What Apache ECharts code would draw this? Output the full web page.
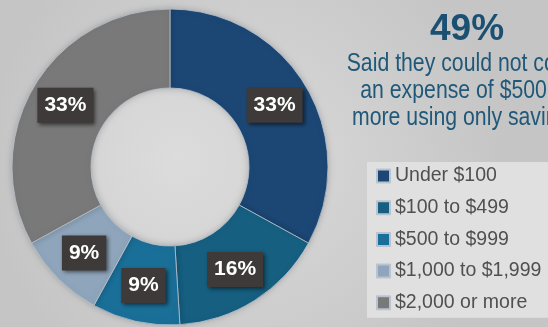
<!DOCTYPE html>
<html>
<head>
<meta charset="utf-8">
<script src="https://cdn.jsdelivr.net/npm/echarts@6/dist/echarts.min.js"></script>
<style>
  html, body { margin: 0; padding: 0; background: #d2d2d2; }
  #chart { width: 548px; height: 327px; }
</style>
</head>
<body>
<div id="chart"></div>
<script>
// Cost of an unexpected expense people could not cover from savings
const categories = ['Under $100', '$100 to $499', '$500 to $999', '$1,000 to $1,999', '$2,000 or more'];
const shares = [33, 16, 9, 9, 33];
const sliceColors = ['#1c4775', '#165f80', '#1a6f98', '#8fa5bb', '#797979'];
const headline = '49%';
const headlineText = ['Said they could not cover', 'an expense of $500 or', 'more using only savings'];

const chart = echarts.init(document.getElementById('chart'), null, { renderer: 'canvas' });

const center = [170, 167];

chart.setOption({
  animation: false,
  backgroundColor: {
    type: 'radial', x: 0.45, y: 0.5, r: 0.8,
    colorStops: [
      { offset: 0, color: '#dadada' },
      { offset: 1, color: '#c5c5c5' }
    ]
  },
  legend: {
    orient: 'vertical',
    left: 367,
    top: 162,
    padding: [4, 40, 5, 9],
    backgroundColor: '#e0e0e0',
    itemWidth: 13,
    itemHeight: 13,
    itemGap: 11.7,
    icon: 'rect',
    selectedMode: false,
    data: categories,
    textStyle: {
      fontFamily: 'Liberation Sans, Arial, sans-serif',
      fontSize: 19.5,
      lineHeight: 20,
      color: '#505050'
    }
  },
  graphic: [
    {
      type: 'text',
      x: 467, y: 30,
      style: {
        text: headline,
        align: 'center',
        verticalAlign: 'middle',
        font: 'bold 37px "Liberation Sans", Arial, sans-serif',
        fill: '#1c5072'
      }
    },
    {
      // condensed caption under the headline figure
      type: 'text',
      x: 466, y: 91,
      scaleX: 0.85,
      style: {
        text: headlineText.join('\n'),
        align: 'center',
        verticalAlign: 'middle',
        lineHeight: 27,
        font: '25px "Liberation Sans", Arial, sans-serif',
        fill: '#1f5878'
      }
    }
  ],
  series: [
    {
      // soft-lit hole in the middle of the ring
      type: 'pie',
      silent: true,
      center: center,
      radius: [0, 79],
      label: { show: false },
      labelLine: { show: false },
      data: [{
        value: 1,
        itemStyle: {
          color: {
            type: 'radial', x: 0.55, y: 0.45, r: 0.6,
            colorStops: [
              { offset: 0, color: '#dcdcdc' },
              { offset: 0.85, color: '#d6d6d6' },
              { offset: 1, color: '#cbcbcb' }
            ]
          }
        }
      }]
    },
    {
      type: 'pie',
      name: 'Expense',
      center: center,
      radius: [79, 158],
      startAngle: 90,
      clockwise: true,
      avoidLabelOverlap: false,
      emphasis: { disabled: true },
      itemStyle: {
        borderColor: '#b9c3cf',
        borderWidth: 0.8,
        shadowColor: 'rgba(0,0,0,0.18)',
        shadowBlur: 6
      },
      label: {
        show: true,
        position: 'inside',
        formatter: '{c}%',
        color: '#ffffff',
        fontFamily: 'Liberation Sans, Arial, sans-serif',
        fontWeight: 'bold',
        fontSize: 21,
        lineHeight: 21,
        backgroundColor: '#3e3a39',
        padding: [7, 7],
        shadowColor: 'rgba(0,0,0,0.55)',
        shadowBlur: 4,
        shadowOffsetX: 2,
        shadowOffsetY: 2
      },
      labelLine: { show: false },
      data: categories.map((name, i) => ({
        name: name,
        value: shares[i],
        itemStyle: { color: sliceColors[i] }
      }))
    }
  ]
});
</script>
</body>
</html>
